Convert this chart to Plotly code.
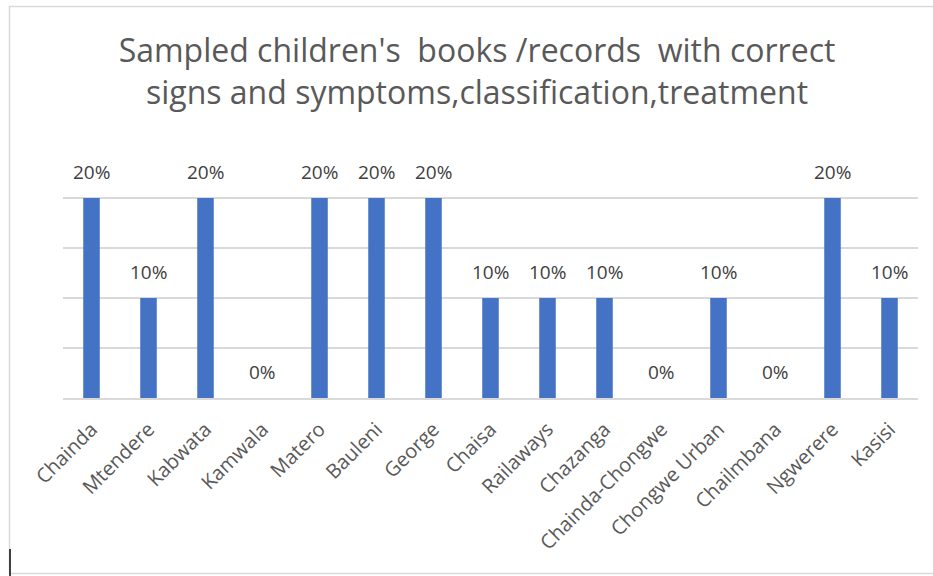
import plotly.graph_objects as go

# Facilities and share of sampled records with correct signs/symptoms, classification and treatment
facilities = ["Chainda", "Mtendere", "Kabwata", "Kamwala", "Matero", "Bauleni", "George",
              "Chaisa", "Railaways", "Chazanga", "Chainda-Chongwe", "Chongwe Urban",
              "Chailmbana", "Ngwerere", "Kasisi"]
share_correct = [0.20, 0.10, 0.20, 0.00, 0.20, 0.20, 0.20,
                 0.10, 0.10, 0.10, 0.00, 0.10,
                 0.00, 0.20, 0.10]
y_ticks = [0.0, 0.05, 0.10, 0.15, 0.20, 0.25]

W, H = 933, 576
L, R, T, B = 63, 15, 148, 178
pw, ph = W - L - R, H - T - B

FONT = "Open Sans"
BAR = "#4472C4"

fig = go.Figure()
fig.add_trace(go.Bar(
    x=facilities, y=share_correct,
    marker=dict(color=BAR, line=dict(width=0)),
    hoverinfo="skip",
))

annotations = []
for name, v in zip(facilities, share_correct):
    annotations.append(dict(
        x=name, y=v, xref="x", yref="y",
        text=f"{v:.0%}", showarrow=False,
        yanchor="middle", yshift=26,
        font=dict(family=FONT, size=19, color="#404040"),
    ))

# outer chart frame (right edge runs off the page)
def px_x(p):
    return (p - L) / pw

def px_y(p):
    return (H - B - p) / ph

shapes = [
    dict(type="rect", xref="paper", yref="paper",
         x0=px_x(9.5), x1=px_x(940), y0=px_y(573.5), y1=px_y(6.5),
         line=dict(color="#D9D9D9", width=1.5), fillcolor="rgba(0,0,0,0)", layer="below"),
    dict(type="line", xref="paper", yref="paper",
         x0=px_x(10), x1=px_x(10), y0=px_y(549), y1=px_y(576),
         line=dict(color="#404040", width=2)),
]

fig.update_layout(
    width=W, height=H,
    margin=dict(l=L, r=R, t=T, b=B, autoexpand=False),
    paper_bgcolor="white", plot_bgcolor="white",
    bargap=0.71,
    showlegend=False,
    title=dict(
        text="Sampled children's  books /records  with correct<br>signs and symptoms,classification,treatment",
        xref="container", yref="container",
        x=477 / W, xanchor="center", y=1 - 62 / H, yanchor="middle",
        font=dict(family=FONT, size=32, color="#595959"),
    ),
    xaxis=dict(
        type="category", tickangle=-45,
        tickfont=dict(family=FONT, size=20, color="#595959"),
        showgrid=False, showline=True, linecolor="#D9D9D9", linewidth=1.5,
        ticks="", ticklabelstandoff=10,
    ),
    yaxis=dict(
        range=[0, 0.25], tickvals=y_ticks, showticklabels=False,
        showgrid=True, gridcolor="#D9D9D9", gridwidth=1.5,
        zeroline=False, showline=False, ticks="",
    ),
    annotations=annotations,
    shapes=shapes,
)

fig.write_html("out.html")
